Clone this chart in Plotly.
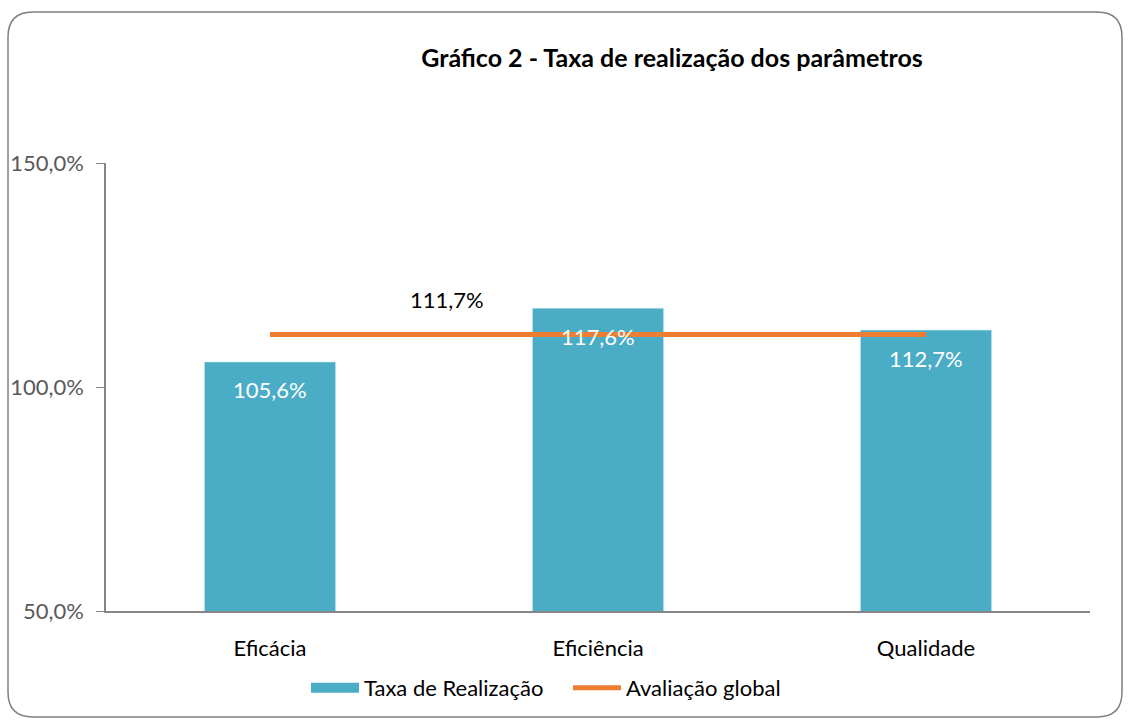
import plotly.graph_objects as go

categories = ["Eficácia", "Eficiência", "Qualidade"]
taxa_realizacao = [105.6, 117.6, 112.7]
avaliacao_global = 111.7
y_ticks = [50, 100, 150]

W, H = 1130, 720
ML, MR, MT, MB = 106, 40, 163, 109
PW, PH = W - ML - MR, H - MT - MB

BAR_COLOR = "#4BACC6"
LINE_COLOR = "#ED7D31"

def fmt(v):
    return f"{v:.1f}".replace(".", ",") + "%"

def px2x(x):
    return (x - ML) / PW

def px2y(y):
    return (H - MB - y) / PH

FONT = "Lato"
FS = 22

fig = go.Figure()
fig.add_trace(go.Bar(
    x=categories, y=taxa_realizacao, name="Taxa de Realização",
    marker=dict(color=BAR_COLOR), width=0.4, showlegend=False,
    hoverinfo="skip",
))
# legend proxy (wide rectangle symbol like the reference)
fig.add_trace(go.Scatter(
    x=[None], y=[None], name="Taxa de Realização", mode="lines",
    line=dict(color=BAR_COLOR, width=15), hoverinfo="skip",
))
fig.add_trace(go.Scatter(
    x=categories, y=[avaliacao_global] * len(categories), name="Avaliação global",
    mode="lines", line=dict(color=LINE_COLOR, width=5),
    hoverinfo="skip",
))

for c, v in zip(categories, taxa_realizacao):
    fig.add_annotation(x=c, y=v, xref="x", yref="y", text=fmt(v), showarrow=False,
                       yanchor="middle", yshift=-28,
                       font=dict(size=FS, color="white", family=FONT))

fig.add_annotation(x=0.54, y=avaliacao_global, xref="x", yref="y",
                   text=fmt(avaliacao_global), showarrow=False, yshift=35,
                   font=dict(size=FS, color="black", family=FONT))

# rounded border
l, r, t, b = px2x(8), px2x(1122), px2y(12), px2y(717)
rx, ry = 25 / PW, 25 / PH
path = (f"M {l+rx},{t} L {r-rx},{t} Q {r},{t} {r},{t-ry} L {r},{b+ry} Q {r},{b} {r-rx},{b} "
        f"L {l+rx},{b} Q {l},{b} {l},{b+ry} L {l},{t-ry} Q {l},{t} {l+rx},{t} Z")
fig.add_shape(type="path", path=path, xref="paper", yref="paper",
              line=dict(color="#7F7F7F", width=1.5), layer="below")

fig.update_layout(
    width=W, height=H,
    margin=dict(l=ML, r=MR, t=MT, b=MB, autoexpand=False),
    paper_bgcolor="white", plot_bgcolor="white",
    separators=",.",
    font=dict(family=FONT, size=FS, color="black"),
    title=dict(text="<b>Gráfico 2 - Taxa de realização dos parâmetros</b>",
               x=672 / W, xanchor="center", y=1 - 58 / H, yanchor="middle",
               font=dict(size=25, color="black", family=FONT)),
    showlegend=True,
    legend=dict(orientation="h", x=px2x(306), xanchor="left", y=px2y(688), yanchor="middle",
                font=dict(size=FS, color="black", family=FONT), itemwidth=48,
                entrywidth=199, entrywidthmode="pixels",
                traceorder="normal"),
)
fig.update_yaxes(range=[50, 150], tickvals=y_ticks, ticktext=[fmt(v) for v in y_ticks],
                 showgrid=False, showline=True, linecolor="#868686", linewidth=1.5,
                 ticks="outside", ticklen=8, tickcolor="#868686", ticklabelstandoff=8,
                 automargin=False,
                 tickfont=dict(size=FS, color="#595959", family=FONT), zeroline=False)
fig.update_xaxes(showgrid=False, showline=True, linecolor="#868686", linewidth=1.5,
                 ticks="", ticklabelstandoff=17, automargin=False,
                 tickfont=dict(size=FS, color="black", family=FONT))

fig.write_html("out.html", config={"displayModeBar": False},
               post_script="document.body.style.margin='0';")
